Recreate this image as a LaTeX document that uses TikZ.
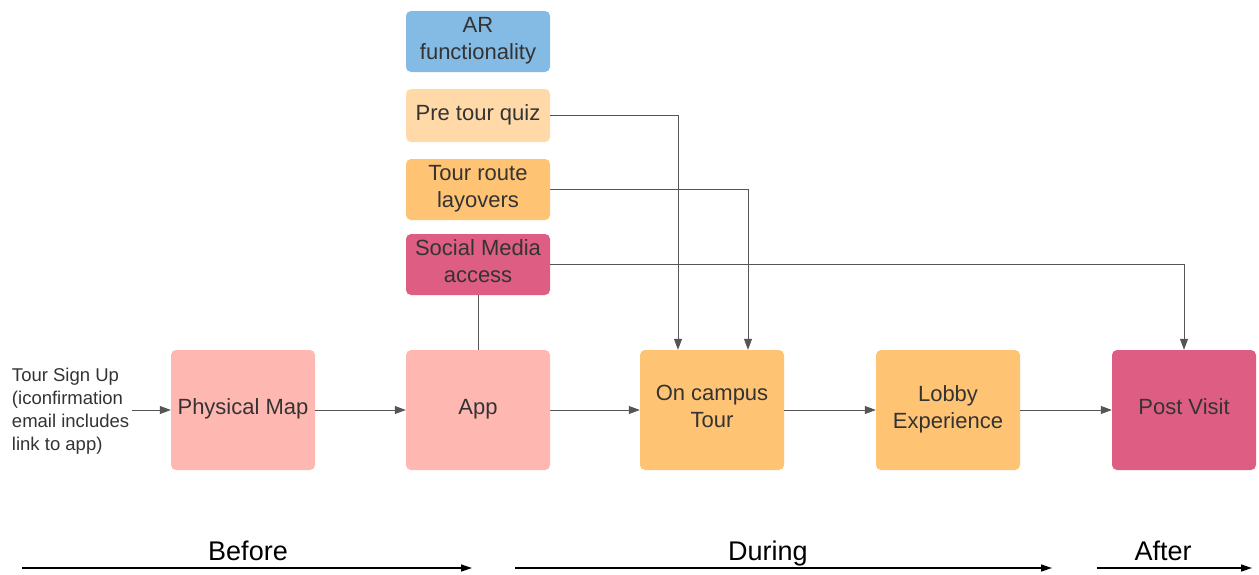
\documentclass[tikz,border=0pt]{standalone}
\usepackage{fontspec}
\setmainfont{Liberation Sans}
\usetikzlibrary{arrows.meta}
\definecolor{arblue}{HTML}{83BBE5}
\definecolor{quiz}{HTML}{FFD9A8}
\definecolor{orangebox}{HTML}{FFC374}
\definecolor{pinkbox}{HTML}{DE5E83}
\definecolor{salmon}{HTML}{FFB8B1}
\definecolor{txt}{HTML}{333333}
\definecolor{lin}{HTML}{555555}
\tikzset{
  x=1pt, y=-1pt,
  box/.style={rounded corners=5pt, minimum width=144pt, inner sep=2pt, align=center,
    text=txt, text depth=6.5pt, font=\fontsize{22}{27}\selectfont},
  small/.style={box, minimum height=61pt},
  big/.style={box, minimum height=120pt},
  conn/.style={draw=lin, line width=0.8pt, -{Triangle[length=11pt,width=8pt]}},
  plain/.style={draw=lin, line width=0.8pt},
  phase/.style={draw=black, line width=1.3pt, -{Triangle[length=11pt,width=7pt]}},
  phaselbl/.style={font=\fontsize{27}{30}\selectfont, text=black, inner sep=0pt, anchor=base}
}
\begin{document}
\begin{tikzpicture}
\useasboundingbox (0,0) rectangle (1259,574);
\node[small, fill=arblue] (ar) at (478,41.5) {AR\\functionality};
\node[box, minimum height=53pt, fill=quiz] (quiz) at (478,115.5) {Pre tour quiz};
\node[small, fill=orangebox] (route) at (478,189.5) {Tour route\\layovers};
\node[small, fill=pinkbox] (social) at (478,264.5) {Social Media\\access};

\node[big, fill=salmon] (phys) at (243,410) {Physical Map};
\node[big, fill=salmon] (app) at (478,410) {App};
\node[big, fill=orangebox] (camp) at (712,410) {On campus\\Tour};
\node[big, fill=orangebox] (lobby) at (948,410) {Lobby\\Experience};
\node[big, fill=pinkbox] (post) at (1184,410) {Post Visit};

\node[anchor=west, align=left, inner sep=0pt, outer xsep=3pt, text=txt,
  font=\fontsize{18.5}{23}\selectfont] (signup) at (9,411)
  {Tour Sign Up\\(iconfirmation\\email includes\\link to app)};

\draw[conn] (signup.east |- phys.west) -- (phys.west);
\draw[conn] (phys.east) -- (app.west);
\draw[conn] (app.east) -- (camp.west);
\draw[conn] (camp.east) -- (lobby.west);
\draw[conn] (lobby.east) -- (post.west);

\draw[conn] (quiz.east) -| ([xshift=-34pt]camp.north);
\draw[conn] (route.east) -| ([xshift=36pt]camp.north);
\draw[conn] (social.east) -| (post.north);
\draw[plain] (social.south) -- (app.north);

\coordinate (b1) at (22,568); \coordinate (b2) at (472,568);
\coordinate (d1) at (515,568); \coordinate (d2) at (1052,568);
\coordinate (a1) at (1097,568); \coordinate (a2) at (1252,568);
\draw[phase] (b1) -- (b2);
\draw[phase] (d1) -- (d2);
\draw[phase] (a1) -- (a2);
\node[phaselbl] (before) at (248,560) {Before};
\node[phaselbl] (during) at (768,560) {During};
\node[phaselbl] (after) at (1163,560) {After};
\end{tikzpicture}
\end{document}
